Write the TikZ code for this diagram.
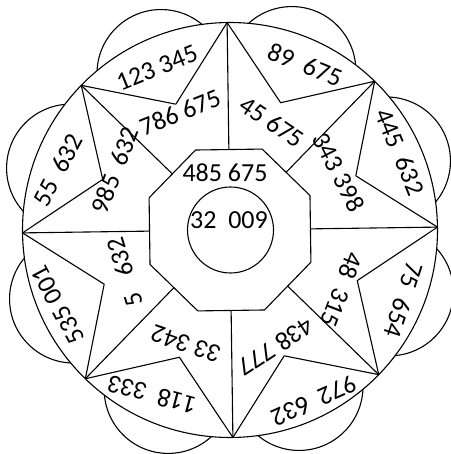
\documentclass[tikz,border=0pt]{standalone}
\usepackage{fontspec}
\setmainfont{Carlito}
\begin{document}
\begin{tikzpicture}[x=1pt,y=1pt,line width=1.1pt,line join=round,
  lbl/.style={inner sep=0pt,font=\fontsize{26}{30}\selectfont}]
\useasboundingbox (-230,-224) rectangle (220,230);
\begin{scope}[rotate=0.8]
  \foreach \k in {0,...,7} {\draw ({22.5+45*\k+0.5}:171) circle (64);}
  \draw[fill=white] (0,0) circle (207.5);
  \foreach \k in {0,...,7} {
    \coordinate (V\k) at ({45*\k}:207.5);
    \coordinate (P\k) at ({22.5+45*\k}:137);
    \coordinate (M\k) at ({45*\k}:80.5);
    \coordinate (O\k) at ({22.5+45*\k}:87.1);
  }
  \draw (V0) -- (P0) -- (V1) -- (P1) -- (V2) -- (P2) -- (V3) -- (P3) -- (V4)
        -- (P4) -- (V5) -- (P5) -- (V6) -- (P6) -- (V7) -- (P7) -- cycle;
  \foreach \k in {0,...,7} {\draw (V\k) -- (M\k);}
  \draw (O0) -- (O1) -- (O2) -- (O3) -- (O4) -- (O5) -- (O6) -- (O7) -- cycle;
\end{scope}
\draw (0.5,0) circle (43);
% centre
\node[lbl] (c1) at (-5,57) {485 675};
\node[lbl] (c2) at (-1,10) {32\ \ 009};
% outer petals
\node[lbl,rotate=22] (a1) at (-73,162) {123 345};
\node[lbl,rotate=-22] (a2) at (75,165) {89\ \ 675};
\node[lbl,rotate=-68] (a3) at (170,78) {445\ \ 632};
\node[lbl,rotate=-108] (a4) at (174,-70) {75\ \ 654};
\node[lbl,rotate=-156] (a5) at (84,-171) {972\ \ 632};
\node[lbl,rotate=165] (a6) at (-78,-165) {118\ \ 333};
\node[lbl,rotate=118] (a7) at (-172,-75) {535 001};
\node[lbl,rotate=62] (a8) at (-172,60) {55\ \ 632};
% inner regions
\node[lbl,rotate=69] (b1) at (-115,60) {985\ \ 632};
\node[lbl,rotate=22] (b2) at (-50,118) {786 675};
\node[lbl,rotate=-34] (b3) at (42,108) {45 675};
\node[lbl,rotate=-63] (b4) at (109,58) {343 398};
\node[lbl,rotate=-111] (b5) at (112,-60) {48\ \ 315};
\node[lbl,rotate=-147] (b6) at (46,-117) {438 777};
\node[lbl,rotate=161] (b7) at (-44,-114) {33 342};
\node[lbl,rotate=107] (b8) at (-105,-42) {5\ \ \ 632};
\end{tikzpicture}
\end{document}
